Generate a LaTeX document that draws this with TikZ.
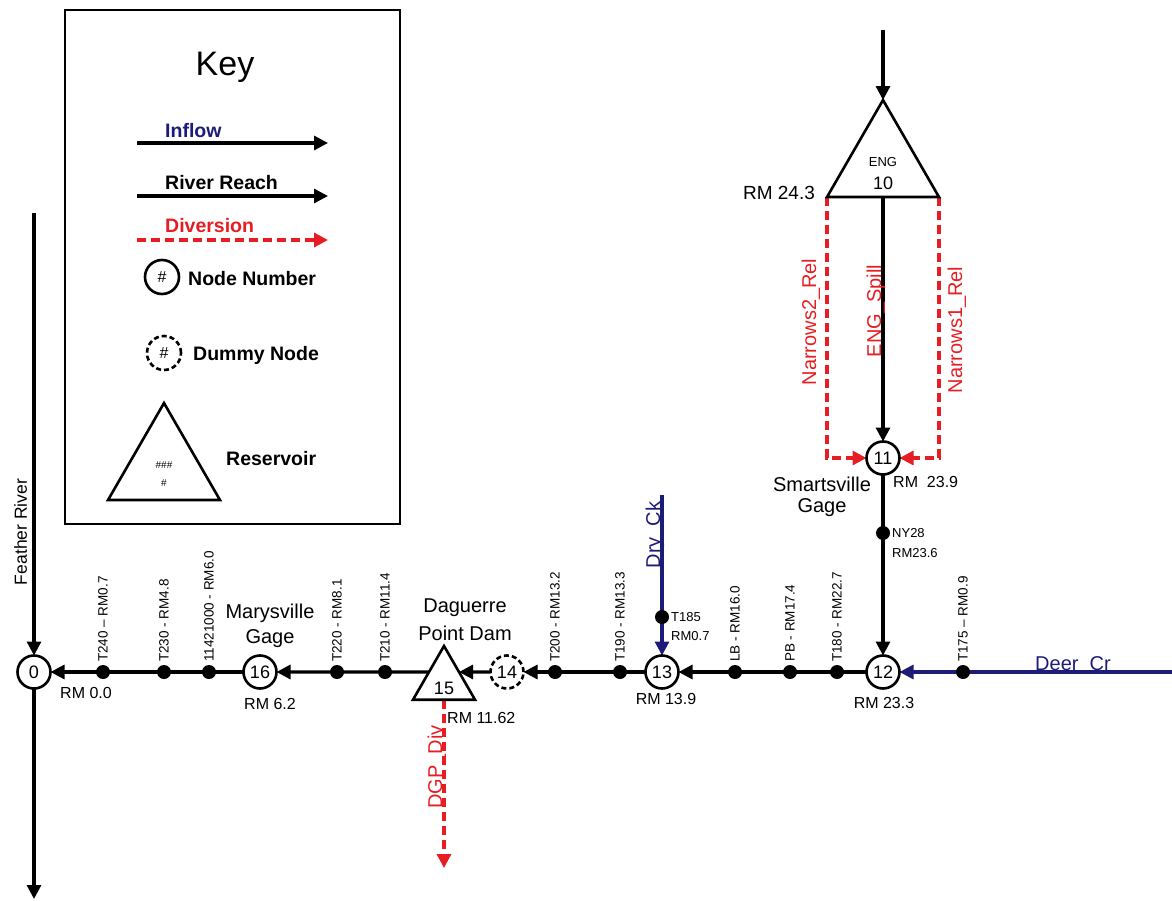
\documentclass[tikz,border=0pt]{standalone}
\usepackage{fontspec}
\setmainfont{Liberation Sans}
\usetikzlibrary{arrows.meta,shapes.geometric,calc}
\pgfdeclarelayer{lines}
\pgfsetlayers{lines,main}
\definecolor{navy}{RGB}{28,28,120}
\definecolor{dred}{RGB}{230,30,35}
\newcommand{\fsz}[1]{\fontsize{#1}{#1}\selectfont}
\begin{document}
\begin{tikzpicture}[x=1pt,y=-1pt,
  >={Triangle[length=14pt,width=14pt]},
  reach/.style={draw=black,line width=3.1pt,->},
  inflw/.style={draw=navy,line width=3.1pt,->},
  divr/.style={draw=dred,line width=3.2pt,dash pattern=on 9pt off 5pt,->},
  nd/.style={circle,draw,line width=2.6pt,minimum size=33pt,inner sep=0pt,outer sep=0pt,fill=white,font=\fsz{18}},
  dmy/.style={nd,dash pattern=on 5pt off 3pt},
  dt/.style={circle,fill=black,inner sep=0pt,minimum size=14pt},
  resv/.style={regular polygon,regular polygon sides=3,draw,line width=2.6pt,inner sep=0pt,outer sep=0pt,fill=white},
  sm/.style={font=\fsz{13.5},rotate=90,anchor=west,inner sep=0pt},
  lbl/.style={font=\fsz{20},inner sep=0pt},
  rml/.style={font=\fsz{16},inner sep=0pt},
  klbl/.style={font=\bfseries\fsz{19.5},inner sep=0pt}]
\useasboundingbox (0,0) rectangle (1172,901);

% ---------- Key ----------
\node[draw,line width=2.2pt,minimum width=335pt,minimum height=514pt,inner sep=0pt] (keybox) at (232.5,267) {};
\node[font=\fsz{34},inner sep=0pt] (keyt) at (225,67) {Key};
\node[klbl,text=navy,anchor=base west] (kin) at (165,138) {Inflow};
\coordinate (ki1) at (137,143); \coordinate (ki2) at (328,143);
\node[klbl,anchor=base west] (krr) at (165,190) {River Reach};
\coordinate (kr1) at (137,196); \coordinate (kr2) at (328,196);
\node[klbl,text=dred,anchor=base west] (kdv) at (165,233) {Diversion};
\coordinate (kd1) at (137,240); \coordinate (kd2) at (328,240);
\node[nd,font=\fsz{16},minimum size=34pt] (knd) at (162,277) {\#};
\node[klbl,anchor=west] (kndl) at (188,279) {Node Number};
\node[dmy,font=\fsz{16},minimum size=34pt] (kdm) at (164,353) {\#};
\node[klbl,anchor=west] (kdml) at (193,355) {Dummy Node};
\node[resv,minimum size=129.3pt] (ktri) at (164,467.7) {};
\node[font=\fsz{10},inner sep=0pt] (ktri1) at (164,465) {\#\#\#};
\node[font=\fsz{10},inner sep=0pt] (ktri2) at (164,483) {\#};
\node[klbl,anchor=west] (kres) at (226,459) {Reservoir};

% ---------- Main nodes ----------
\node[nd] (n0) at (34,672) {0};
\node[nd] (n16) at (260,672) {16};
\node[resv,minimum size=71.6pt] (t15) at (444,681.8) {};
\node[font=\fsz{18},inner sep=0pt] (t15l) at (444,688) {15};
\node[dmy] (n14) at (507,672) {14};
\node[nd] (n13) at (662,672) {13};
\node[nd] (n12) at (883,672) {12};
\node[nd] (n11) at (883,458) {11};
\node[resv,minimum size=129.3pt] (t10) at (883,164.7) {};
\node[font=\fsz{13},inner sep=0pt] (t10a) at (883,162) {ENG};
\node[font=\fsz{18},inner sep=0pt] (t10b) at (883,183) {10};

\coordinate (t15L) at ($(t15.corner 1)!0.484!(t15.corner 2)$);
\coordinate (t15R) at ($(t15.corner 1)!0.484!(t15.corner 3)$);
\coordinate (ftop) at (34,213);
\coordinate (fbot) at (34,899);
\coordinate (engtop) at (883,30);
\coordinate (drytop) at (662,495);
\coordinate (deerend) at (1172,672);
\coordinate (dgpend) at (444,868);

% dots
\node[dt] (d240) at (103,672) {};
\node[dt] (d230) at (164,672) {};
\node[dt] (d114) at (209,672) {};
\node[dt] (d220) at (337,672) {};
\node[dt] (d210) at (385,672) {};
\node[dt] (d200) at (555,672) {};
\node[dt] (d190) at (620,672) {};
\node[dt] (dlb) at (735,672) {};
\node[dt] (dpb) at (790,672) {};
\node[dt] (d180) at (837,672) {};
\node[dt] (d175) at (963,672) {};
\node[dt] (d185) at (662,617) {};
\node[dt] (dny) at (883,533) {};

% ---------- connectors ----------
\begin{pgfonlayer}{lines}
\draw[reach] (ki1) -- (ki2);
\draw[reach] (kr1) -- (kr2);
\draw[divr] (kd1) -- (kd2);
\draw[reach] (ftop) -- (n0);
\draw[reach] (n0) -- (fbot);
\draw[reach] (n16) -- (n0);
\draw[reach] (t15L) -- (n16);
\draw[reach] (n14) -- (t15R);
\draw[reach] (n13) -- (n14);
\draw[reach] (n12) -- (n13);
\draw[inflw] (deerend) -- (n12);
\draw[inflw] (drytop) -- (n13);
\draw[reach] (n11) -- (n12);
\draw[reach] (engtop) -- (t10.corner 1);
\draw[reach] (t10.south) -- (n11);
\draw[divr] (t10.corner 2) |- (n11);
\draw[divr] (t10.corner 3) |- (n11);
\draw[divr] (t15.south) -- (dgpend);
\end{pgfonlayer}

% ---------- labels ----------
\node[sm] (l240) at (103,662) {T240 -- RM0.7};
\node[sm] (l230) at (164,662) {T230 - RM4.8};
\node[sm] (l114) at (209,662) {11421000 - RM6.0};
\node[sm] (l220) at (337,662) {T220 - RM8.1};
\node[sm] (l210) at (385,662) {T210 - RM11.4};
\node[sm] (l200) at (555,662) {T200 - RM13.2};
\node[sm] (l190) at (620,662) {T190 - RM13.3};
\node[sm] (llb) at (735,662) {LB - RM16.0};
\node[sm] (lpb) at (790,662) {PB - RM17.4};
\node[sm] (l180) at (837,662) {T180 - RM22.7};
\node[sm] (l175) at (963,662) {T175 -- RM0.9};
\node[font=\fsz{13},anchor=west,inner sep=0pt] (l185a) at (671,617) {T185};
\node[font=\fsz{13},anchor=west,inner sep=0pt] (l185b) at (671,636) {RM0.7};
\node[font=\fsz{13},anchor=west,inner sep=0pt] (lnya) at (892,533) {NY28};
\node[font=\fsz{13},anchor=west,inner sep=0pt] (lnyb) at (892,553) {RM23.6};

\node[rml] (rm00) at (86,693) {RM 0.0};
\node[rml] (rm62) at (270,704) {RM 6.2};
\node[lbl] (mary1) at (270,613) {Marysville};
\node[lbl] (mary2) at (270,639) {Gage};
\node[lbl] (dag1) at (465,608) {Daguerre};
\node[lbl] (dag2) at (465,633) {Point Dam};
\node[rml,anchor=west] (rm1162) at (447,718) {RM 11.62};
\node[rml] (rm139) at (666,699) {RM 13.9};
\node[rml] (rm233) at (884,703) {RM 23.3};
\node[lbl] (sm1) at (822,484) {Smartsville};
\node[lbl] (sm2) at (822,508) {Gage};
\node[rml,anchor=west] (rm239) at (893,482) {RM\ \ 23.9};
\node[font=\fsz{19},inner sep=0pt] (rm243) at (779,193) {RM 24.3};

\node[font=\fsz{17.5},inner sep=0pt,rotate=90,anchor=base] (feather) at (27,532) {Feather River};
\node[lbl,rotate=90,anchor=base,text=dred] (nar2) at (816,322) {Narrows2\_Rel};
\node[lbl,rotate=90,anchor=base,text=dred] (engs) at (881,311) {ENG\_Spill};
\node[lbl,rotate=90,anchor=base,text=dred] (nar1) at (962,330) {Narrows1\_Rel};
\node[lbl,rotate=90,anchor=base,text=dred] (dgp) at (442,767) {DGP\_Div};
\node[lbl,rotate=90,anchor=base,text=navy] (dry) at (660,535) {Dry\_Ck};
\node[lbl,anchor=base,text=navy] (deer) at (1073,670) {Deer\_Cr};
\end{tikzpicture}
\end{document}
